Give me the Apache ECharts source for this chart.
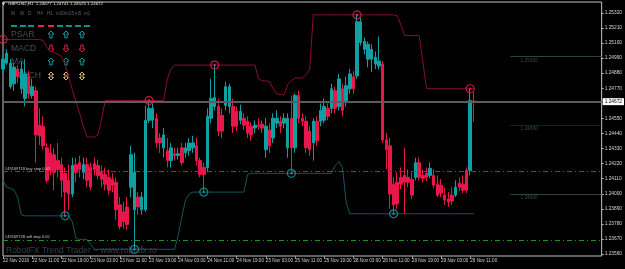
<!DOCTYPE html>
<html>
<head>
<meta charset="utf-8">
<script src="https://cdn.jsdelivr.net/npm/echarts@6/dist/echarts.min.js"></script>
<style>
  html, body { margin: 0; padding: 0; background: #000; }
  #chart { width: 625px; height: 269px; }
</style>
</head>
<body>
<div id="chart"></div>
<script>
// GBPUSD H1, bars from 22 Nov 03:00 to 29 Nov 12:00
const tickLabels = ['22 Nov 2016', '22 Nov 11:00', '22 Nov 19:00', '23 Nov 03:00', '23 Nov 11:00',
  '23 Nov 19:00', '24 Nov 03:00', '24 Nov 11:00', '24 Nov 19:00', '25 Nov 03:00', '25 Nov 11:00',
  '25 Nov 19:00', '28 Nov 03:00', '28 Nov 11:00', '28 Nov 19:00', '29 Nov 03:00', '29 Nov 11:00'];

const opens = [
  1.24910, 1.24953, 1.24781, 1.24802, 1.24910, 1.24766, 1.24695, 1.24853, 1.24716, 1.24752,
  1.24500, 1.24493, 1.24335, 1.24299, 1.24285, 1.24242, 1.24213, 1.24149, 1.24098, 1.23998,
  1.24213, 1.24227, 1.24156, 1.24213, 1.24192, 1.24220, 1.24206, 1.24156, 1.24141, 1.24120,
  1.24106, 1.24084, 1.23919, 1.23868, 1.23904, 1.24048, 1.23883, 1.23976, 1.23883, 1.23883,
  1.24536, 1.24536, 1.24551, 1.24407, 1.24335, 1.24314, 1.24242, 1.24292, 1.24278, 1.24335,
  1.24299, 1.24314, 1.24335, 1.24350, 1.24242, 1.24192, 1.24192, 1.24551, 1.24637, 1.24637,
  1.24572, 1.24644, 1.24637, 1.24637, 1.24601, 1.24536, 1.24551, 1.24529, 1.24493, 1.24479,
  1.24500, 1.24508, 1.24321, 1.24465, 1.24407, 1.24515, 1.24529, 1.24515, 1.24335, 1.24551,
  1.24335, 1.24716, 1.24551, 1.24529, 1.24457, 1.24371, 1.24529, 1.24529, 1.24536, 1.24623,
  1.24623, 1.24752, 1.24637, 1.24766, 1.24673, 1.24766, 1.24853, 1.24860, 1.25104, 1.25054,
  1.24982, 1.24982, 1.24946, 1.24932, 1.24946, 1.24393, 1.24350, 1.24070, 1.24084, 1.24120,
  1.24134, 1.24120, 1.24106, 1.24120, 1.24227, 1.24134, 1.24149, 1.24134, 1.24134, 1.24070,
  1.24062, 1.23990, 1.23962, 1.23990, 1.23990, 1.24077, 1.24070, 1.24170, 1.24170, 1.24677];
const closes = [
  1.24982, 1.25025, 1.24953, 1.24924, 1.24853, 1.24910, 1.24874, 1.24730, 1.24781, 1.24429,
  1.24422, 1.24350, 1.24098, 1.24170, 1.24156, 1.24177, 1.24098, 1.24012, 1.23998, 1.24206,
  1.24156, 1.24177, 1.24213, 1.24098, 1.24048, 1.24177, 1.24134, 1.24106, 1.24070, 1.24026,
  1.24062, 1.23883, 1.23760, 1.23796, 1.23775, 1.24285, 1.24156, 1.23904, 1.23976, 1.24536,
  1.24623, 1.24623, 1.24371, 1.24371, 1.24429, 1.24242, 1.24335, 1.24278, 1.24292, 1.24227,
  1.24335, 1.24371, 1.24371, 1.24242, 1.24141, 1.24141, 1.24565, 1.24695, 1.24702, 1.24457,
  1.24457, 1.24781, 1.24781, 1.24493, 1.24493, 1.24601, 1.24500, 1.24443, 1.24429, 1.24500,
  1.24493, 1.24479, 1.24493, 1.24350, 1.24551, 1.24551, 1.24493, 1.24551, 1.24551, 1.24335,
  1.24716, 1.24551, 1.24529, 1.24335, 1.24321, 1.24529, 1.24386, 1.24608, 1.24637, 1.24565,
  1.24766, 1.24623, 1.24838, 1.24608, 1.24788, 1.24874, 1.24766, 1.25255, 1.25255, 1.25111,
  1.25090, 1.25054, 1.24996, 1.24968, 1.24393, 1.24321, 1.23998, 1.23919, 1.23926, 1.24070,
  1.24084, 1.24084, 1.23990, 1.24227, 1.24120, 1.24113, 1.24120, 1.24184, 1.24062, 1.23990,
  1.24005, 1.23954, 1.23940, 1.23947, 1.24048, 1.24048, 1.24026, 1.24026, 1.24680, 1.24672];
const lows = [
  1.24881, 1.24939, 1.24766, 1.24752, 1.24809, 1.24730, 1.24637, 1.24695, 1.24695, 1.24227,
  1.24357, 1.24321, 1.24077, 1.24134, 1.24026, 1.24120, 1.23976, 1.23839, 1.23883, 1.23976,
  1.24084, 1.24120, 1.24106, 1.24048, 1.24026, 1.24134, 1.24106, 1.24048, 1.24026, 1.23990,
  1.24012, 1.23811, 1.23739, 1.23746, 1.23739, 1.23976, 1.23602, 1.23847, 1.23847, 1.23868,
  1.24515, 1.24479, 1.24335, 1.24299, 1.24263, 1.24192, 1.24192, 1.24242, 1.24249, 1.24206,
  1.24263, 1.24278, 1.24299, 1.24206, 1.24120, 1.24019, 1.24156, 1.24515, 1.24608, 1.24422,
  1.24407, 1.24608, 1.24587, 1.24443, 1.24457, 1.24508, 1.24465, 1.24407, 1.24386, 1.24443,
  1.24465, 1.24443, 1.24263, 1.24299, 1.24371, 1.24479, 1.24443, 1.24479, 1.24263, 1.24149,
  1.24299, 1.24515, 1.24493, 1.24299, 1.24278, 1.24242, 1.24350, 1.24493, 1.24515, 1.24536,
  1.24587, 1.24587, 1.24608, 1.24565, 1.24637, 1.24730, 1.24730, 1.24838, 1.25082, 1.25018,
  1.24924, 1.24888, 1.24910, 1.24910, 1.24371, 1.24177, 1.23890, 1.23854, 1.23890, 1.24034,
  1.23854, 1.24048, 1.23962, 1.24098, 1.24098, 1.24084, 1.24091, 1.24113, 1.24041, 1.23976,
  1.23976, 1.23919, 1.23904, 1.23919, 1.23976, 1.24019, 1.24005, 1.24005, 1.24134, 1.24525];
const highs = [
  1.25011, 1.25054, 1.24982, 1.24953, 1.24939, 1.24968, 1.24982, 1.24896, 1.24838, 1.24781,
  1.24623, 1.24565, 1.24371, 1.24364, 1.24335, 1.24371, 1.24263, 1.24192, 1.24213, 1.24263,
  1.24263, 1.24278, 1.24263, 1.24263, 1.24227, 1.24263, 1.24249, 1.24206, 1.24192, 1.24177,
  1.24149, 1.24120, 1.23976, 1.23940, 1.23976, 1.24350, 1.24299, 1.24012, 1.24012, 1.24644,
  1.24687, 1.24659, 1.24587, 1.24443, 1.24479, 1.24407, 1.24371, 1.24335, 1.24335, 1.24371,
  1.24371, 1.24407, 1.24422, 1.24407, 1.24263, 1.24227, 1.24623, 1.24838, 1.24946, 1.24695,
  1.24623, 1.24817, 1.24802, 1.24695, 1.24637, 1.24651, 1.24587, 1.24565, 1.24522, 1.24536,
  1.24551, 1.24536, 1.24551, 1.24515, 1.24587, 1.24608, 1.24565, 1.24587, 1.24587, 1.24716,
  1.24730, 1.24752, 1.24587, 1.24565, 1.24493, 1.24551, 1.24565, 1.24659, 1.24695, 1.24659,
  1.24802, 1.24781, 1.24874, 1.24802, 1.24853, 1.24910, 1.24896, 1.25312, 1.25284, 1.25140,
  1.25111, 1.25090, 1.25039, 1.25147, 1.24968, 1.24443, 1.24407, 1.24120, 1.24156, 1.24192,
  1.24335, 1.24177, 1.24156, 1.24263, 1.24263, 1.24177, 1.24192, 1.24227, 1.24177, 1.24134,
  1.24106, 1.24048, 1.24012, 1.24048, 1.24098, 1.24120, 1.24134, 1.24192, 1.24766, 1.24741];

// trend channel (upper / lower band of the RobotFX indicator)
const upperBand = [
  1.25126, 1.25126, 1.25126, 1.25126, 1.25126, 1.25126, 1.25126, 1.25126, 1.25126, 1.25126,
  1.25126, 1.25118, 1.25068, 1.25039, 1.25032, 1.25018, 1.25003, 1.24946, 1.24853, 1.24759,
  1.24673, 1.24587, 1.24493, 1.24414, 1.24414, 1.24414, 1.24429, 1.24544, 1.24680, 1.24680,
  1.24680, 1.24680, 1.24680, 1.24680, 1.24680, 1.24680, 1.24680, 1.24680, 1.24680, 1.24680,
  1.24680, 1.24680, 1.24680, 1.24680, 1.24680, 1.24838, 1.24910, 1.24939, 1.24939, 1.24939,
  1.24939, 1.24939, 1.24939, 1.24939, 1.24939, 1.24939, 1.24939, 1.24939, 1.24939, 1.24939,
  1.24939, 1.24939, 1.24939, 1.24939, 1.24939, 1.24939, 1.24939, 1.24939, 1.24939, 1.24939,
  1.24838, 1.24824, 1.24824, 1.24817, 1.24766, 1.24730, 1.24723, 1.24723, 1.24795, 1.24824,
  1.24845, 1.24845, 1.24845, 1.24867, 1.24903, 1.25305, 1.25305, 1.25305, 1.25305, 1.25305,
  1.25305, 1.25305, 1.25305, 1.25305, 1.25305, 1.25305, 1.25305, 1.25305, 1.25305, 1.25305,
  1.25305, 1.25305, 1.25305, 1.25305, 1.25305, 1.25305, 1.25305, 1.25305, 1.25298, 1.25233,
  1.25154, 1.25154, 1.25154, 1.25154, 1.25154, 1.24968, 1.24766, 1.24766, 1.24766, 1.24766,
  1.24766, 1.24766, 1.24766, 1.24766, 1.24766, 1.24766, 1.24766, 1.24766, 1.24766, 1.24766];
const lowerBand = [
  1.24098, 1.24048, 1.24041, 1.24026, 1.23976, 1.23847, 1.23839, 1.23839, 1.23839, 1.23839,
  1.23839, 1.23839, 1.23839, 1.23839, 1.23839, 1.23839, 1.23839, 1.23839, 1.23839, 1.23796,
  1.23674, 1.23667, 1.23667, 1.23667, 1.23631, 1.23595, 1.23595, 1.23595, 1.23595, 1.23595,
  1.23595, 1.23595, 1.23595, 1.23595, 1.23595, 1.23595, 1.23595, 1.23595, 1.23595, 1.23595,
  1.23595, 1.23595, 1.23595, 1.23595, 1.23595, 1.23595, 1.23595, 1.23595, 1.23696, 1.23832,
  1.23954, 1.23998, 1.24012, 1.24012, 1.24012, 1.24012, 1.24012, 1.24012, 1.24012, 1.24012,
  1.24012, 1.24012, 1.24012, 1.24012, 1.24012, 1.24012, 1.24012, 1.24141, 1.24149, 1.24149,
  1.24149, 1.24149, 1.24149, 1.24149, 1.24149, 1.24149, 1.24149, 1.24149, 1.24149, 1.24149,
  1.24149, 1.24149, 1.24149, 1.24149, 1.24149, 1.24149, 1.24149, 1.24149, 1.24149, 1.24149,
  1.24149, 1.24206, 1.24235, 1.24192, 1.23940, 1.23854, 1.23854, 1.23854, 1.23854, 1.23854,
  1.23854, 1.23854, 1.23854, 1.23854, 1.23854, 1.23854, 1.23854, 1.23854, 1.23854, 1.23854,
  1.23854, 1.23854, 1.23854, 1.23854, 1.23854, 1.23854, 1.23854, 1.23854, 1.23854, 1.23854,
  1.23854, 1.23854, 1.23854, 1.23854, 1.23854, 1.23854, 1.23854, 1.23854, 1.23854, 1.23854];
const upperTouches = [0, 40, 58, 97, 128];
const lowerTouches = [17, 36, 55, 79, 107];

const priceTicks = [1.2532, 1.2521, 1.2510, 1.2499, 1.2488, 1.2477, 1.2455, 1.2444,
  1.2433, 1.2422, 1.2411, 1.2400, 1.2389, 1.2378, 1.2367, 1.2356];
const roundLevels = [1.25000, 1.24500, 1.24000];
const currentPrice = 1.24672;
const buyStop = 1.24163;
const sellStop = 1.23660;
const totalSlots = 165; // includes the empty shift area on the right

// signal panel (top left)
const signalNames = ['PSAR', 'MACD', 'MA', 'STOCH'];
const signalDirs = ['up', 'down', 'up', 'both'];
const timeframes = ['M', 'W', 'D', 'H4', 'H1', 'm30', 'm15', 'm5', 'm1'];

const categories = [];
for (let i = 0; i < totalSlots; i++) categories.push(String(i));
const candles = opens.map((o, i) => [o, closes[i], lows[i], highs[i]]);
const showTick = (idx) => idx % 8 === 0 && idx / 8 < tickLabels.length;
const lastSlot = totalSlots - 1;

const TEAL = '#0fa0a2';
const RED = '#e8174b';
const tinyFont = 'Liberation Sans';

// horizontal line across a range of slots, all through the axes
const hLine = (p, from, to, lineStyle, label) => [
  { coord: [from, p], lineStyle: lineStyle, label: label || { show: false } },
  { coord: [to, p] }
];

const levelLines = roundLevels.map((p, k) => hLine(p, 139, lastSlot,
  { color: '#2c4444', width: 1, type: k === 1 ? 'dotted' : 'solid' },
  {
    show: true, position: 'insideStartBottom', distance: [10, 1],
    formatter: p.toFixed(5), color: '#2f4c4c', fontSize: 4.8, fontFamily: tinyFont
  }));

const orderLabel = (text) => ({
  show: true, position: 'insideStartTop', distance: [2, 1], formatter: text,
  color: '#c9ccd6', fontSize: 4, fontFamily: tinyFont
});

// hollow arrow outline, cx = centre, y0 = top
function arrowPoints(dir, cx, y0) {
  if (dir === 'up') {
    return [[cx, y0], [cx + 3, y0 + 3], [cx + 1.2, y0 + 3], [cx + 1.2, y0 + 7],
      [cx - 1.2, y0 + 7], [cx - 1.2, y0 + 3], [cx - 3, y0 + 3]];
  }
  if (dir === 'down') {
    return [[cx, y0 + 7], [cx + 3, y0 + 4], [cx + 1.2, y0 + 4], [cx + 1.2, y0],
      [cx - 1.2, y0], [cx - 1.2, y0 + 4], [cx - 3, y0 + 4]];
  }
  return [[cx, y0], [cx + 2.5, y0 + 2.5], [cx + 1, y0 + 2.5], [cx + 1, y0 + 5.5],
    [cx + 2.5, y0 + 5.5], [cx, y0 + 8], [cx - 2.5, y0 + 5.5], [cx - 1, y0 + 5.5],
    [cx - 1, y0 + 2.5], [cx - 2.5, y0 + 2.5]];
}
const arrowColor = { up: '#0f9a9c', down: '#d8204a', both: '#d9b27a' };
const rowTop = [30, 44, 57, 71];

const chart = echarts.init(document.getElementById('chart'), null, { renderer: 'canvas' });
chart.setOption({
  animation: false,
  backgroundColor: '#000',
  grid: { left: 2, top: 2, right: 20, bottom: 13, show: true, borderColor: '#c4c4c4', borderWidth: 1 },
  xAxis: {
    type: 'category',
    data: categories,
    boundaryGap: false,
    axisLine: { show: false },
    axisTick: { show: true, interval: showTick, length: 3, lineStyle: { color: '#9a9a9a' } },
    axisLabel: {
      interval: showTick, align: 'left', margin: 2, color: '#cfcfcf', fontSize: 4.6,
      fontFamily: tinyFont, formatter: (v, idx) => tickLabels[idx / 8]
    },
    splitLine: { show: false }
  },
  yAxis: {
    type: 'value',
    position: 'right',
    min: 1.23546,
    max: 1.25399,
    scale: true,
    axisLine: { show: false },
    axisTick: { show: true, customValues: priceTicks, length: 2, lineStyle: { color: '#bbb' } },
    axisLabel: {
      customValues: priceTicks, margin: 3, color: '#d6d6d6', fontSize: 4.8,
      fontFamily: tinyFont, formatter: (v) => v.toFixed(5)
    },
    splitLine: { show: false }
  },
  series: [
    {
      type: 'line', data: upperBand, symbol: 'none', z: 2,
      lineStyle: { color: '#8a0f2f', width: 1 }
    },
    {
      type: 'line', data: lowerBand, symbol: 'none', z: 2,
      lineStyle: { color: '#14585c', width: 1 }
    },
    {
      type: 'candlestick',
      data: candles,
      barWidth: 3,
      z: 3,
      itemStyle: { color: TEAL, color0: RED, borderColor: TEAL, borderColor0: RED, borderWidth: 1 },
      markLine: {
        symbol: 'none',
        silent: true,
        animation: false,
        data: [
          hLine(currentPrice, 0, lastSlot, { color: '#5c5c5c', width: 2, type: 'solid' }, {
            show: true, position: 'end', distance: 1, formatter: currentPrice.toFixed(5),
            backgroundColor: '#fff', color: '#000', fontSize: 4.8, fontFamily: tinyFont, padding: [1, 2]
          }),
          hLine(buyStop, 0, lastSlot, { color: '#23912b', width: 1, type: [5, 3, 1, 3] },
            orderLabel('#49169718 buy stop 0.05')),
          hLine(buyStop, 0, lastSlot, { color: '#d0103a', width: 1, type: [5, 7] }),
          hLine(sellStop, 0, lastSlot, { color: '#23912b', width: 1, type: [5, 3, 1, 3] },
            orderLabel('#49169728 sell stop 0.05')),
          ...levelLines
        ]
      }
    },
    {
      type: 'scatter', z: 5, symbol: 'circle', symbolSize: 8,
      data: upperTouches.map(i => [i, upperBand[i]]),
      itemStyle: { color: 'rgba(0,0,0,0)', borderColor: '#e8234f', borderWidth: 1.2 }
    },
    {
      type: 'scatter', z: 6, symbol: 'circle', symbolSize: 2.5,
      data: upperTouches.map(i => [i, upperBand[i]]),
      itemStyle: { color: '#e8234f' }
    },
    {
      type: 'scatter', z: 5, symbol: 'circle', symbolSize: 8,
      data: lowerTouches.map(i => [i, lowerBand[i]]),
      itemStyle: { color: 'rgba(0,0,0,0)', borderColor: '#12a0a2', borderWidth: 1.2 }
    },
    {
      type: 'scatter', z: 6, symbol: 'circle', symbolSize: 2.5,
      data: lowerTouches.map(i => [i, lowerBand[i]]),
      itemStyle: { color: '#12a0a2' }
    }
  ],
  graphic: [
    { type: 'text', left: 2, top: 2, style: { text: '▼', fill: '#ddd', font: '4px "DejaVu Sans"' } },
    {
      type: 'text', left: 8, top: 2,
      style: { text: 'GBPUSD,H1  1.24677 1.24741 1.24525 1.24672', fill: '#e4e4e4', font: '4.4px "Liberation Sans"' }
    },
    ...timeframes.map((t, k) => ({
      type: 'text', left: [11, 20, 28, 37, 47, 56, 65, 75, 84][k], top: 11,
      style: { text: t, fill: '#56626c', font: '4.6px "Liberation Sans"' }
    })),
    ...[11, 20, 28, 38, 48, 57, 66, 75, 84].map((x, k) => ({
      type: 'rect', shape: { x: x, y: 25, width: 6, height: 2 },
      style: { fill: (k === 3 || k === 4) ? '#e0274f' : '#0e8f92' }
    })),
    ...signalNames.map((t, k) => ({
      type: 'text', left: 11, top: rowTop[k],
      style: { text: t, fill: '#47505a', font: '8.6px "Liberation Sans"' }
    })),
    ...signalDirs.flatMap((dir, row) => [51, 66, 82].map(cx => ({
      type: 'polygon',
      shape: { points: arrowPoints(dir, cx, rowTop[row] + 1) },
      style: { fill: 'none', stroke: arrowColor[dir], lineWidth: 1 }
    }))),
    {
      type: 'text', left: 6, top: 246,
      style: { text: 'RobotFX Trend Trader ~ www.robotfx.ro', fill: '#394046', font: '8.5px "Liberation Sans"' }
    }
  ]
});
</script>
</body>
</html>
